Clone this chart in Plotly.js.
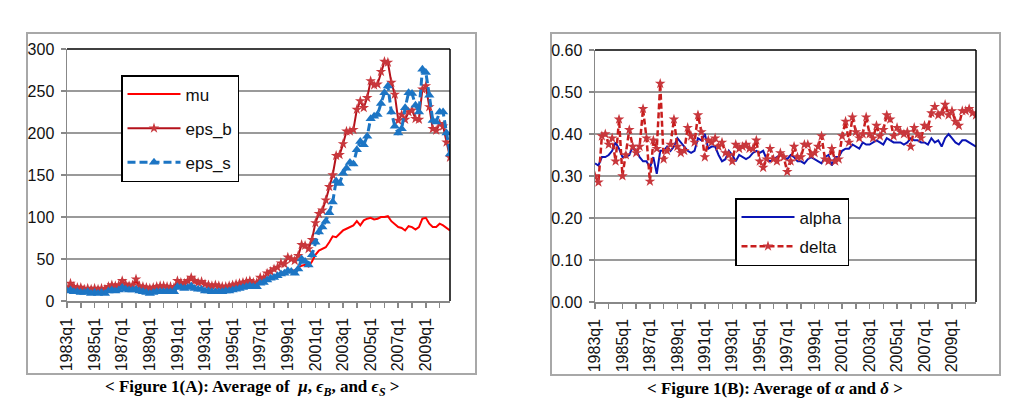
<!DOCTYPE html>
<html>
<head>
<meta charset="utf-8">
<script src="https://cdn.plot.ly/plotly-3.0.1.min.js"></script>
<style>html,body{margin:0;padding:0;background:#fff;}#chart{width:1024px;height:416px;}</style>
</head>
<body>
<div id="chart"></div>
<script>
// Categories: quarters 1983q1 .. 2010q4
const years = [1983,1984,1985,1986,1987,1988,1989,1990,1991,1992,1993,1994,1995,1996,1997,1998,1999,2000,2001,2002,2003,2004,2005,2006,2007,2008,2009,2010];
const quarters = [];
years.forEach(y => { for (let q = 1; q <= 4; q++) quarters.push(y + 'q' + q); });

// Figure 1(A)
const mu = [
 14,19,16,15, 15,13,14,13, 14,13,14,13, 16,18,17,18, 22,19,17,18, 24,17,16,15,
 14,15,16,17, 17,16,16,15, 22,21,20,22, 26,22,21,21, 19,18,17,18, 17,16,16,17,
 18,19,20,21, 21,22,21,21, 22,23,26,28, 29,31,33,35, 37,37,36,40, 42,43,41,47,
 55,60,62,64, 70,77,76,80, 84,86,88,90, 95,90,96,98, 99,97,98,100, 100,101,95,92,
 88,87,84,89, 88,85,88,98, 99,92,88,88, 92,90,87,84];
const eps_b = [
 15,21,17,16, 16,14,15,14, 15,14,15,14, 17,19,18,19, 24,20,18,19, 26,18,17,16,
 15,16,17,18, 18,17,17,16, 24,22,21,24, 28,24,22,23, 20,19,18,19, 18,17,17,18,
 19,20,21,22, 23,24,22,22, 28,27,33,35, 38,40,45,44, 52,50,48,54, 67,66,62,73,
 93,104,108,120, 136,150,173,174, 187,202,202,204, 228,238,230,242, 262,257,258,273, 285,284,260,246,
 215,222,216,225, 227,217,216,252, 256,231,205,203, 211,208,189,171];
const eps_s = [
 12,13,11,11, 10,10,11,9, 10,9,10,9, 12,13,12,13, 16,14,13,13, 14,12,11,10,
 9,10,11,11, 11,11,11,11, 17,16,15,16, 18,15,14,14, 12,12,11,11, 11,11,12,12,
 13,14,15,16, 17,18,17,17, 21,22,25,27, 28,30,32,33, 36,35,33,38, 50,47,43,55,
 70,82,88,95, 105,118,143,140, 152,158,165,163, 180,190,186,196, 217,220,222,235, 248,256,225,208,
 200,205,230,248, 247,233,225,276, 272,245,215,213, 225,225,200,175];

// Figure 1(B)
const alpha = [
 0.330,0.325,0.345,0.345, 0.350,0.360,0.380,0.365, 0.345,0.345,0.350,0.370, 0.360,0.345,0.335,0.335,
 0.320,0.345,0.305,0.360, 0.360,0.370,0.360,0.370, 0.390,0.380,0.370,0.360, 0.355,0.360,0.390,0.385,
 0.400,0.365,0.370,0.370, 0.350,0.335,0.340,0.360, 0.350,0.335,0.350,0.345, 0.340,0.345,0.355,0.360,
 0.355,0.360,0.340,0.335, 0.340,0.345,0.350,0.345, 0.340,0.350,0.345,0.335, 0.335,0.330,0.340,0.345,
 0.340,0.335,0.330,0.345, 0.350,0.325,0.345,0.345, 0.360,0.365,0.365,0.375, 0.370,0.365,0.380,0.375,
 0.375,0.380,0.385,0.380, 0.375,0.390,0.385,0.380, 0.380,0.380,0.375,0.380, 0.390,0.385,0.385,0.380,
 0.380,0.375,0.390,0.380, 0.385,0.370,0.390,0.400, 0.390,0.380,0.375,0.385, 0.385,0.380,0.375,0.370];
const delta = [
 0.300,0.285,0.395,0.400, 0.375,0.390,0.335,0.435, 0.300,0.350,0.410,0.370, 0.355,0.370,0.460,0.390,
 0.287,0.385,0.365,0.520, 0.340,0.360,0.375,0.435, 0.370,0.355,0.360,0.415, 0.395,0.380,0.445,0.405,
 0.345,0.385,0.380,0.390, 0.370,0.380,0.355,0.350, 0.335,0.375,0.365,0.370, 0.375,0.365,0.365,0.385,
 0.335,0.320,0.340,0.365, 0.340,0.335,0.355,0.345, 0.310,0.335,0.370,0.345, 0.345,0.375,0.375,0.350,
 0.355,0.370,0.395,0.340, 0.335,0.365,0.335,0.340, 0.395,0.430,0.380,0.440, 0.405,0.390,0.400,0.440,
 0.400,0.390,0.420,0.395, 0.410,0.445,0.435,0.395, 0.415,0.405,0.400,0.405, 0.370,0.415,0.400,0.390,
 0.420,0.415,0.450,0.465, 0.445,0.450,0.470,0.445, 0.455,0.430,0.420,0.455, 0.455,0.460,0.450,0.445];

// tick labels every 8 quarters, tick marks every 4 quarters
const tickVals = quarters.filter((q, i) => i % 4 === 0);
const tickText = quarters.map((q, i) => (i % 8 === 0 ? q : ' ')).filter((q, i) => i % 4 === 0);

const FONT = 'Liberation Sans Narrow, Liberation Sans, Arial, sans-serif';
const W = 1024, H = 416;
const px = v => v / W, py = v => 1 - v / H;

const traces = [
  {x: quarters, y: mu, name: 'mu', type: 'scatter', mode: 'lines',
   line: {color: '#FF0000', width: 2}, xaxis: 'x', yaxis: 'y', legend: 'legend', legendgroup: 'a1'},
  {x: quarters, y: eps_b, name: 'eps_b', type: 'scatter', mode: 'lines+markers',
   line: {color: '#B5121B', width: 2}, marker: {symbol: 'star', size: 8, color: '#C8373C'},
   xaxis: 'x', yaxis: 'y', legend: 'legend', legendgroup: 'a2'},
  {x: quarters, y: eps_s, name: 'eps_s', type: 'scatter', mode: 'lines+markers',
   line: {color: '#1C75C4', width: 3, dash: '8px,4px'}, marker: {symbol: 'triangle-up', size: 9, color: '#1C75C4'},
   xaxis: 'x', yaxis: 'y', legend: 'legend', legendgroup: 'a3'},
  {x: quarters, y: alpha, name: 'alpha', type: 'scatter', mode: 'lines',
   line: {color: '#0A14B4', width: 2}, xaxis: 'x2', yaxis: 'y2', legend: 'legend2', legendgroup: 'b1'},
  {x: quarters, y: delta, name: 'delta', type: 'scatter', mode: 'lines+markers',
   line: {color: '#C81E1E', width: 2.5, dash: '6px,3px'}, marker: {symbol: 'star', size: 8, color: '#C8373C'},
   xaxis: 'x2', yaxis: 'y2', legend: 'legend2', legendgroup: 'b2'}
];

const xCommon = {
  type: 'category', range: [0, 111], tickmode: 'array', tickvals: tickVals, ticktext: tickText,
  tickangle: -90, ticks: 'outside', ticklen: 5, tickcolor: '#888', tickwidth: 1.5,
  showline: true, linecolor: '#888', linewidth: 1.5, showgrid: false, zeroline: false,
  tickfont: {family: FONT, size: 16, color: '#111'}, ticklabelstandoff: 4
};
const yCommon = {
  ticks: 'outside', ticklen: 5, tickcolor: '#888', tickwidth: 1.5,
  showline: true, linecolor: '#888', linewidth: 1.5, zeroline: false,
  showgrid: true, gridcolor: '#9a9a9a', gridwidth: 1.5,
  tickfont: {family: FONT, size: 16, color: '#111'}, ticklabelstandoff: 3
};

const layout = {
  width: W, height: H, margin: {l: 0, r: 0, t: 0, b: 0},
  paper_bgcolor: '#fff', plot_bgcolor: '#fff', showlegend: true,
  xaxis: Object.assign({}, xCommon, {domain: [px(67), px(450)], anchor: 'y'}),
  yaxis: Object.assign({}, yCommon, {domain: [py(301), py(49)], range: [0, 300], dtick: 50, anchor: 'x'}),
  xaxis2: Object.assign({}, xCommon, {domain: [px(595), px(976)], anchor: 'y2'}),
  yaxis2: Object.assign({}, yCommon, {domain: [py(302), py(50)], range: [0, 0.6], dtick: 0.1, tickformat: '.2f', anchor: 'x2'}),
  legend: {x: px(121), y: py(75), xanchor: 'left', yanchor: 'top', bgcolor: '#fff',
    bordercolor: '#000', borderwidth: 1.5, itemwidth: 53, tracegroupgap: 9,
    font: {family: FONT, size: 17, color: '#111'}},
  legend2: {x: px(735), y: py(198), xanchor: 'left', yanchor: 'top', bgcolor: '#fff',
    bordercolor: '#000', borderwidth: 1.5, itemwidth: 53, tracegroupgap: 4,
    font: {family: FONT, size: 17, color: '#111'}},
  shapes: [
    {type: 'rect', xref: 'paper', yref: 'paper', x0: px(27), x1: px(476), y0: py(374), y1: py(33),
     line: {color: '#a8a8a8', width: 2}, layer: 'below'},
    {type: 'rect', xref: 'paper', yref: 'paper', x0: px(551), x1: px(1000), y0: py(375), y1: py(33),
     line: {color: '#a8a8a8', width: 2}, layer: 'below'},
    {type: 'line', xref: 'x domain', yref: 'y domain', x0: 0, x1: 1, y0: 1, y1: 1, line: {color: '#000', width: 1.5}},
    {type: 'line', xref: 'x domain', yref: 'y domain', x0: 1, x1: 1, y0: 0, y1: 1, line: {color: '#000', width: 1.5}},
    {type: 'line', xref: 'x2 domain', yref: 'y2 domain', x0: 0, x1: 1, y0: 1, y1: 1, line: {color: '#000', width: 1.5}},
    {type: 'line', xref: 'x2 domain', yref: 'y2 domain', x0: 1, x1: 1, y0: 0, y1: 1, line: {color: '#000', width: 1.5}}
  ],
  annotations: [
    {xref: 'paper', yref: 'paper', x: px(252), y: py(388), xanchor: 'center', yanchor: 'middle', showarrow: false,
     text: '<b>&lt; Figure 1(A): Average of  <i>μ</i>, <i>ϵ</i><sub><i>B</i></sub>, and <i>ϵ</i><sub><i>S</i></sub> &gt;</b>',
     font: {family: 'Liberation Serif, Times New Roman, serif', size: 17, color: '#000'}},
    {xref: 'paper', yref: 'paper', x: px(775), y: py(388), xanchor: 'center', yanchor: 'middle', showarrow: false,
     text: '<b>&lt; Figure 1(B): Average of <i>α</i> and <i>δ</i> &gt;</b>',
     font: {family: 'Liberation Serif, Times New Roman, serif', size: 17, color: '#000'}}
  ]
};

Plotly.newPlot('chart', traces, layout, {staticPlot: true, displayModeBar: false});
</script>
</body>
</html>
